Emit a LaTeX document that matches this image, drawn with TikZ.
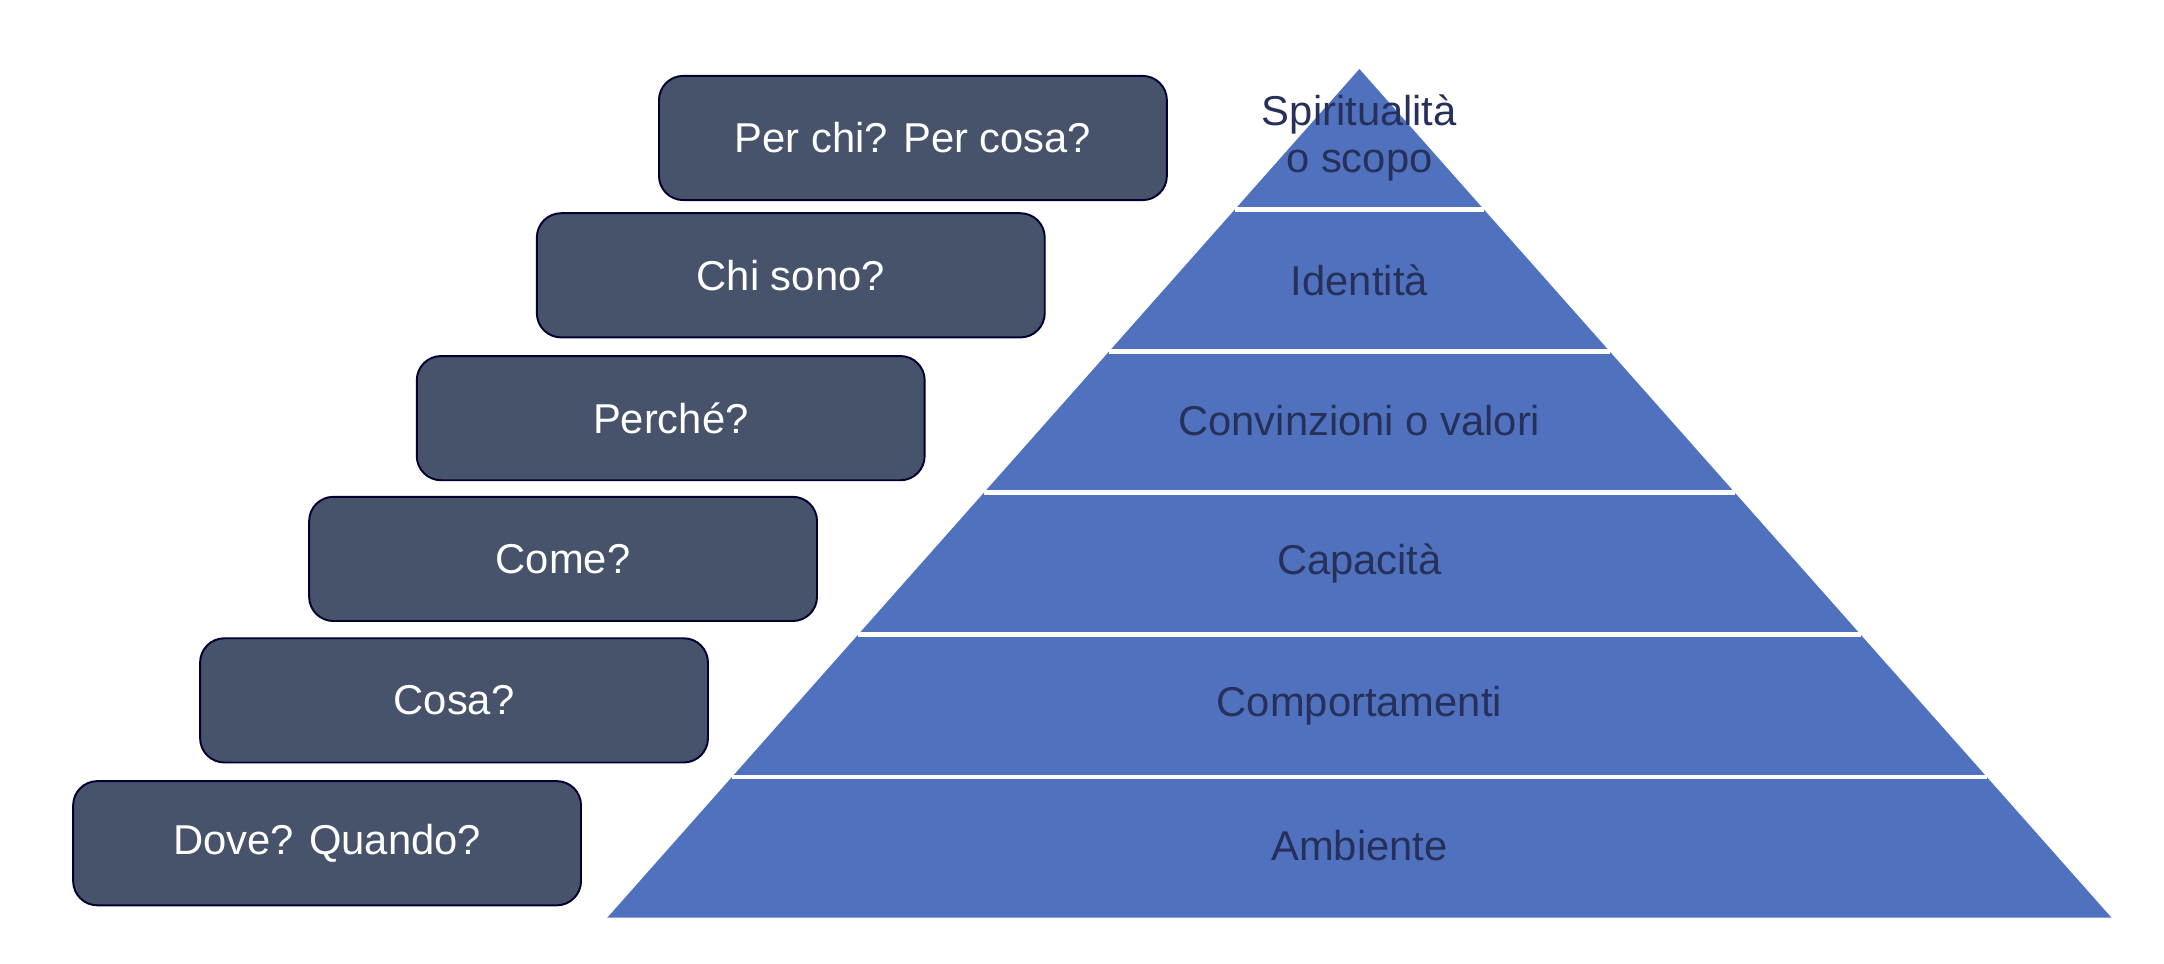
\documentclass[tikz,border=0pt]{standalone}
\usepackage{fontspec}
\setmainfont{Liberation Sans}
\definecolor{layerblue}{HTML}{5072BE}
\definecolor{layertext}{HTML}{26305A}
\definecolor{boxgray}{HTML}{46536B}
\begin{document}
\begin{tikzpicture}[x=0.01cm,y=-0.01cm,
  question/.style={draw=black!80!blue,fill=boxgray,rounded corners=5pt,text=white,
    minimum width=368*0.01cm,minimum height=90*0.01cm,font=\fontsize{8.6}{10}\selectfont},
  layerlabel/.style={text=layertext,font=\fontsize{8.6}{9.5}\selectfont,align=center}]
  \useasboundingbox (0,0) rectangle (1568,698);
  % Pyramid
  \coordinate (apex) at (985,50);
  \coordinate (bl) at (440,665);
  \coordinate (br) at (1530,665);
  \fill[layerblue] (apex) -- (bl) -- (br) -- cycle;
  \foreach \y in {152,255,357,460,563}
  \draw[white,line width=1pt] ({985-(\y-50)*0.8862},\y) -- ({985+(\y-50)*0.8862},\y);
  \node[layerlabel] (spirit) at (985,100) {Spiritualità\\o scopo};
  \node[layerlabel] (ident) at (985,203) {Identità};
  \node[layerlabel] (conv) at (985,305) {Convinzioni o valori};
  \node[layerlabel] (capac) at (985,408) {Capacità};
  \node[layerlabel] (comp) at (985,511) {Comportamenti};
  \node[layerlabel] (amb) at (985,613) {Ambiente};

  % Questions
  \node[question] (perchi) at (661.5,100) {Per chi? Per cosa?};
  \node[question] (chisono) at (573,199.5) {Chi sono?};
  \node[question] (perche) at (486,303) {Perché?};
  \node[question] (come) at (408,405) {Come?};
  \node[question] (cosa) at (329,507.5) {Cosa?};
  \node[question] (dove) at (237,611) {Dove? Quando?};
\end{tikzpicture}
\end{document}
